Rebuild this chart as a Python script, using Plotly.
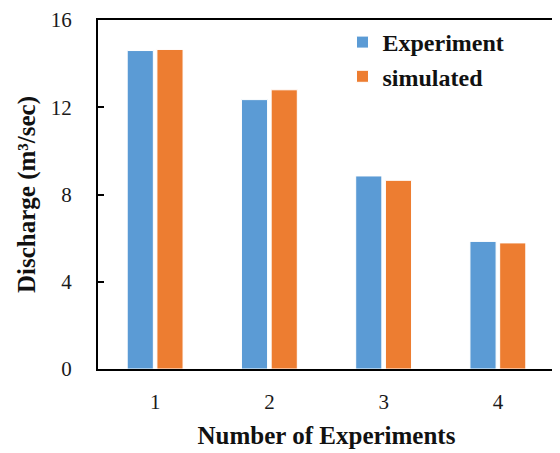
import plotly.graph_objects as go

categories = ["1", "2", "3", "4"]
experiment = [14.6, 12.35, 8.85, 5.85]
simulated = [14.65, 12.8, 8.65, 5.78]

FONT = "Times New Roman"

fig = go.Figure()
fig.add_trace(go.Bar(x=categories, y=experiment, name="Experiment",
                     marker=dict(color="#5B9BD5", line=dict(color="white", width=1))))
fig.add_trace(go.Bar(x=categories, y=simulated, name="simulated",
                     marker=dict(color="#ED7D31", line=dict(color="white", width=1))))

fig.update_layout(
    width=552, height=445,
    margin=dict(l=90, r=5, t=12, b=84),
    paper_bgcolor="white", plot_bgcolor="white",
    font=dict(family=FONT, color="#1a1a1a", size=21),
    barmode="group", bargap=0.48, bargroupgap=0.12,
    showlegend=True,
    legend=dict(x=0.535, y=1.0, xanchor="left", yanchor="top",
                font=dict(family=FONT, size=24, weight="bold", color="#111"),
                bgcolor="rgba(0,0,0,0)", itemwidth=30, tracegroupgap=0),
    xaxis=dict(type="category", range=[-0.5, 3.5], showline=True, mirror=True,
               linecolor="black", linewidth=2, ticks="", showgrid=False,
               automargin=False,
               ticklabelstandoff=13, tickfont=dict(size=21, family=FONT),
               title=dict(text="Number of Experiments", standoff=13,
                          font=dict(size=25, family=FONT, weight="bold", color="#111"))),
    yaxis=dict(range=[0, 16], dtick=4, showline=True, mirror=True,
               linecolor="black", linewidth=2, ticks="inside", ticklen=6,
               tickwidth=2, tickcolor="black", showgrid=False, zeroline=False,
               automargin=False,
               ticklabelstandoff=20, tickfont=dict(size=21, family=FONT),
               title=dict(text="Discharge (m³/sec)", standoff=8,
                          font=dict(size=25, family=FONT, weight="bold", color="#111"))),
)

fig.write_html("out.html")
